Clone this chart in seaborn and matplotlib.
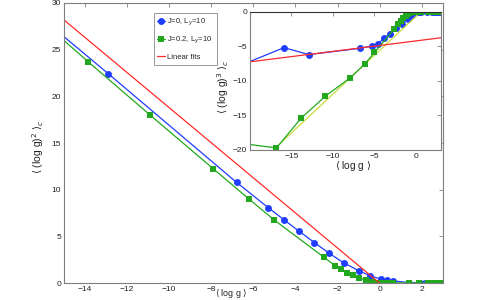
import matplotlib
matplotlib.use("Agg")
import matplotlib.pyplot as plt
import seaborn as sns
import numpy as np
import pandas as pd

sns.set_theme(style="white")
plt.rcParams['font.family'] = ['Liberation Sans', 'DejaVu Sans']
plt.rcParams['mathtext.fontset'] = 'dejavusans'

# ---- data ----
# J=0, Ly=10
j0_mean = [-21.0, -15.9, -12.9, -6.8, -5.3, -4.55, -3.85, -3.1, -2.4, -1.7, -1.0, -0.45,
           0.07, 0.35, 0.62, 1.37, 1.9, 2.15, 2.4, 2.65, 2.85, 3.0]
j0_var = [38.0, 28.1, 22.45, 10.8, 8.1, 6.8, 5.6, 4.35, 3.2, 2.17, 1.35, 0.78,
          0.43, 0.3, 0.25, 0.07, 0.05, 0.04, 0.03, 0.03, 0.02, 0.02]
j0_third = [-7.7, -5.2, -6.2, -5.3, -4.97, -4.6, -3.86, -3.2, -2.36, -1.78, -1.06, -0.48,
            -0.1, -0.05, -0.02, 0.0, 0.0, 0.0, 0.0, 0.0, 0.0, 0.0]

# J=0.2, Ly=10
j2_mean = [-21.0, -16.8, -13.84, -10.9, -7.92, -6.2, -5.0, -2.65, -2.12, -1.82, -1.53, -1.25,
           -0.97, -0.67, -0.38, -0.1, 0.2, 0.4, 0.62, 1.4, 1.85, 2.3, 2.55, 2.75, 2.9, 3.0]
j2_var = [39.5, 29.56, 23.7, 18.0, 12.28, 9.0, 6.75, 2.78, 1.89, 1.53, 1.14, 0.85,
          0.57, 0.32, 0.14, 0.07, 0.04, 0.03, 0.03, 0.02, 0.02, 0.02, 0.02, 0.02, 0.02, 0.02]
j2_third = [-19.05, -19.7, -15.4, -12.2, -9.56, -7.6, -5.9, -2.55, -1.78, -1.4, -0.96, -0.62,
            -0.33, -0.15, -0.05, 0.0, 0.0, 0.0, 0.0, 0.0, 0.0, 0.0, 0.0, 0.0, 0.0, 0.0]

# linear fits (endpoints)
fit_main_x = [-15.0, 0.0]
fit_main_y = [28.2, 0.0]
fit_inset_red_x = [-20.0, 3.0]
fit_inset_red_y = [-7.25, -3.77]
fit_inset_yel_x = [-18.0, 0.6]
fit_inset_yel_y = [-20.9, 0.0]

main_xticks = [-14, -12, -10, -8, -6, -4, -2, 0, 2]
main_yticks = [0, 5, 10, 15, 20, 25, 30]
inset_xticks = [-15, -10, -5, 0]
inset_yticks = [0, -5, -10, -15, -20]

BLUE = '#1f3cff'
GREEN = '#22a81e'
RED = '#ff2a2a'
YEL = '#c8dc3c'
GRAY = '#7f7f7f'
TXT = '#222222'

XLAB = r'$\langle$ log g $\rangle$'
Y2LAB = r'$\langle$ (log g)$^2$ $\rangle_c$'
Y3LAB = r'$\langle$ (log g)$^3$ $\rangle_c$'


def fmt(t):
    return f'\u2212{abs(t)}' if t < 0 else str(t)


df0 = pd.DataFrame({'m': j0_mean, 'v': j0_var, 't': j0_third})
df2 = pd.DataFrame({'m': j2_mean, 'v': j2_var, 't': j2_third})

fig = plt.figure(figsize=(4.91, 3.0), dpi=100)
ax = fig.add_axes([0.13, 0.056, 0.772, 0.934])

sns.lineplot(data=df0, x='m', y='v', ax=ax, color=BLUE, marker='o', markersize=5,
             markeredgewidth=0, linewidth=0.9, sort=False, estimator=None,
             label='J=0, L$_y$=10')
sns.lineplot(data=df2, x='m', y='v', ax=ax, color=GREEN, marker='s', markersize=4,
             markeredgewidth=0, linewidth=0.9, sort=False, estimator=None,
             label='J=0.2, L$_y$=10')
sns.lineplot(x=fit_main_x, y=fit_main_y, ax=ax, color=RED, linewidth=0.9,
             label='Linear fits')

ax.set_xlim(-15, 3)
ax.set_ylim(0, 30)
ax.set_xticks(main_xticks)
ax.set_yticks(main_yticks)
ax.set_xticklabels([fmt(t) for t in main_xticks])
ax.tick_params(direction='in', length=3, width=0.6, colors=GRAY, labelcolor=TXT,
               labelsize=6, top=True, right=True, pad=2)
for s in ax.spines.values():
    s.set_color(GRAY)
    s.set_linewidth(0.8)
ax.set_xlabel(XLAB, fontsize=6.4, color=TXT)
ax.xaxis.set_label_coords(0.441, -0.013)
ax.set_ylabel(Y2LAB, fontsize=7.5, color=TXT)
ax.yaxis.set_label_coords(-0.047, 0.487)

leg = ax.legend(loc='upper left', bbox_to_anchor=(0.237, 0.965), fontsize=5.5,
                frameon=True, fancybox=False, handlelength=1.0, handletextpad=0.3,
                borderpad=0.5, labelspacing=0.95, borderaxespad=0)
leg.get_frame().set_edgecolor(GRAY)
leg.get_frame().set_linewidth(0.7)

# ---- inset ----
ax2 = fig.add_axes([0.509, 0.5, 0.389, 0.461])
ax2.set_facecolor('white')
sns.lineplot(data=df0, x='m', y='t', ax=ax2, color=BLUE, marker='o', markersize=5,
             markeredgewidth=0, linewidth=0.9, sort=False, estimator=None)
sns.lineplot(x=fit_inset_yel_x, y=fit_inset_yel_y, ax=ax2, color=YEL, linewidth=0.9)
sns.lineplot(data=df2, x='m', y='t', ax=ax2, color=GREEN, marker='s', markersize=4,
             markeredgewidth=0, linewidth=0.9, sort=False, estimator=None)
sns.lineplot(x=fit_inset_red_x, y=fit_inset_red_y, ax=ax2, color=RED, linewidth=0.9)
ax2.set_xlim(-20, 3)
ax2.set_ylim(-20, 0)
ax2.set_xticks(inset_xticks)
ax2.set_yticks(inset_yticks)
ax2.set_xticklabels([fmt(t) for t in inset_xticks])
ax2.set_yticklabels([fmt(t) for t in inset_yticks])
ax2.tick_params(direction='in', length=3, width=0.6, colors=GRAY, labelcolor=TXT,
                labelsize=6, top=True, right=True, pad=2)
for s in ax2.spines.values():
    s.set_color(GRAY)
    s.set_linewidth(0.8)
ax2.spines['top'].set_color('#333333')
ax2.set_xlabel(XLAB, fontsize=7.2, color=TXT)
ax2.xaxis.set_label_coords(0.54, -0.065)
ax2.set_ylabel(Y3LAB, fontsize=7.5, color=TXT)
ax2.yaxis.set_label_coords(-0.1, 0.455)
if ax2.get_legend():
    ax2.get_legend().remove()

fig.savefig('out.png', dpi=100)
